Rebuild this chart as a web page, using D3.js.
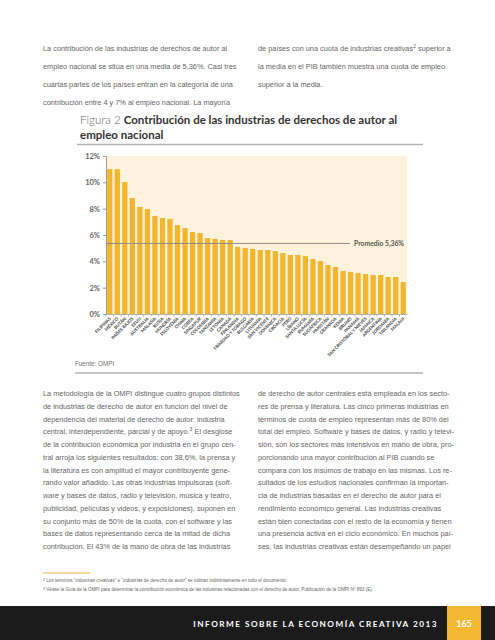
<!DOCTYPE html>
<html><head><meta charset="utf-8">
<script src="https://cdn.jsdelivr.net/npm/d3@7/dist/d3.min.js"></script>
<style>html,body{margin:0;padding:0;background:#fff;}svg{display:block;}</style>
</head><body>
<svg id="page" width="495" height="640"></svg>
<script>
const countries = ["FILIPINAS","MÉXICO","BUTÁN","PAÍSES BAJOS","EEUU","AUSTRALIA","MALASIA","RUSIA","HUNGRÍA","ESLOVENIA","CHINA","COREA","SINGAPUR","COLOMBIA","TANZANIA","LETONIA","CANADÁ","FINLANDIA","TRINIDAD Y TOBAGO","BULGARIA","LITUANIA","SAN VICENTE","DOMINICA","CROACIA","PERÚ","LÍBANO","SANTA LUCÍA","RUMANIA","SUDÁFRICA","PAKISTÁN","GRANADA","KENIA","BRUNEI","PANAMÁ","SAN CRISTÓBAL Y NIEVES","JAMAICA","ARGENTINA","JORDANIA","TAILANDIA","MALAUI"];
const values = [11.0,11.0,10.03,8.81,8.13,7.97,7.44,7.29,7.22,6.76,6.53,6.23,6.15,5.77,5.70,5.62,5.62,5.09,5.01,4.94,4.86,4.86,4.78,4.63,4.48,4.48,4.41,4.18,4.03,3.72,3.57,3.27,3.19,3.11,3.04,2.96,2.96,2.81,2.81,2.43];
const yTicks = [0,2,4,6,8,10,12];
const average = 5.36;
const averageLabel = "Promedio 5,36%";

const topLeft = ["La contribución de las industrias de derechos de autor al","empleo nacional se sitúa en una media de 5,36%. Casi tres","cuartas partes de los países entran en la categoría de una","contribución entre 4 y 7% al empleo nacional. La mayoría"];
const topRight = [["de países con una cuota de industrias creativas","2"," superior a"],["la media en el PIB también muestra una cuota de empleo"],["superior a la media."]];
const bottomLeft = [[["La metodología de la OMPI distingue cuatro grupos distintos"]],[["de industrias de derecho de autor en función del nivel de"]],[["dependencia del material de derecho de autor: industria"]],[["central, interdependiente, parcial y de apoyo."],["3","sup"],[" El desglose","down"]],[["de la contribución económica por industria en el grupo cen-"]],[["tral arroja los siguientes resultados: con 38,6%, la prensa y"]],[["la literatura es con amplitud el mayor contribuyente gene-"]],[["rando valor añadido. Las otras industrias impulsoras ("],["soft-","it"]],[["ware","it"],[" y bases de datos, radio y televisión, música y teatro,"]],[["publicidad, películas y videos, y exposiciones), suponen en"]],[["su conjunto más de 50% de la cuota, con el software y las"]],[["bases de datos representando cerca de la mitad de dicha"]],[["contribución. El 43% de la mano de obra de las industrias"]]];
const bottomRight = ["de derecho de autor centrales está empleada en los secto-","res de prensa y literatura. Las cinco primeras industrias en","términos de cuota de empleo representan más de 80% del","total del empleo. Software y bases de datos, y radio y televi-","sión, son los sectores más intensivos en mano de obra, pro-","porcionando una mayor contribución al PIB cuando se","compara con los insumos de trabajo en las mismas. Los re-","sultados de los estudios nacionales confirman la importan-","cia de industrias basadas en el derecho de autor para el","rendimiento económico general. Las industrias creativas","están bien conectadas con el resto de la economía y tienen","una presencia activa en el ciclo económico. En muchos paí-","ses, las industrias creativas están desempeñando un papel"];
const footnotes = [["2","Los términos “industrias creativas” e “industrias de derecho de autor” se utilizan indistintamente en todo el documento."],["3","Véase la Guía de la OMPI para determinar la contribución económica de las industrias relacionadas con el derecho de autor, Publicación de la OMPI Nº 893 (E)."]];

const svg = d3.select("#page");
const bodyFont = "'Liberation Sans', Arial, sans-serif";
const headFont = "Lato, 'Noto Sans', sans-serif";
const textCol = "#666";

function fit(str, target, family, weight) {
  const t = svg.append("text").attr("font-family", family).attr("font-weight", weight||"normal").attr("font-size", 10).text(str);
  const w = t.node().getComputedTextLength(); t.remove();
  return 10 * target / w;
}
const bodySize = fit(bottomLeft[0][0][0], 197, bodyFont);

// top paragraphs
const topY0 = 51, lead = 18;
topLeft.forEach((s,i)=>svg.append("text").attr("x",43).attr("y",topY0+i*lead).attr("font-family",bodyFont).attr("font-size",bodySize).attr("fill",textCol).text(s));
topRight.forEach((parts,i)=>{
  const t = svg.append("text").attr("x",258).attr("y",topY0+i*lead).attr("font-family",bodyFont).attr("font-size",bodySize).attr("fill",textCol);
  t.append("tspan").text(parts[0]);
  if (parts.length>1){ t.append("tspan").attr("dy",-3).attr("font-size",bodySize*0.7).text(parts[1]); t.append("tspan").attr("dy",3).text(parts[2]); }
});

// title
const titleSize = fit("Figura 2 Contribución de las industrias de derechos de autor al", 318, headFont, "bold");
const t1 = svg.append("text").attr("x",80).attr("y",124).attr("font-family",headFont).attr("font-size",titleSize).attr("fill","#333");
t1.append("tspan").attr("font-weight",300).attr("fill","#666").text("Figura 2 ");
t1.append("tspan").attr("font-weight","bold").text("Contribución de las industrias de derechos de autor al");
svg.append("text").attr("x",80).attr("y",139).attr("font-family",headFont).attr("font-size",titleSize).attr("font-weight","bold").attr("fill","#333").text("empleo nacional");
svg.append("line").attr("x1",77).attr("x2",423).attr("y1",144.5).attr("y2",144.5).attr("stroke","#b3b3b3").attr("stroke-width",1.5);

// chart
const x = d3.scaleBand().domain(countries).range([106,407]).paddingInner(0.3).paddingOuter(0.15);
const y = d3.scaleLinear().domain([0,12]).range([314,156]);
const g = svg.append("g");
g.append("rect").attr("x",106).attr("y",y(12)).attr("width",407-106).attr("height",y(0)-y(12)).attr("fill","#fdf3dd");
g.selectAll("rect.bar").data(values).join("rect").attr("class","bar")
  .attr("x",(d,i)=>x(countries[i])).attr("width",x.bandwidth())
  .attr("y",d=>y(d)).attr("height",d=>y(0)-y(d)).attr("fill","#f1b52e");
const yAxis = g.append("g").attr("transform","translate(106,0)")
  .call(d3.axisLeft(y).tickValues(yTicks).tickFormat(d=>d+"%").tickSize(3).tickPadding(3));
yAxis.select(".domain").attr("stroke","#9a9a9a");
yAxis.selectAll(".tick line").attr("stroke","#9a9a9a");
yAxis.selectAll("text").attr("font-family",headFont).attr("font-size",7.5).attr("font-weight","bold").attr("fill","#666");
const step = x.step();
const xAxis = g.append("g").attr("transform","translate(0,314)")
  .call(d3.axisBottom(x).tickSize(2.5).tickSizeOuter(0).tickFormat(""));
xAxis.select(".domain").attr("stroke","#b0b0b0");
xAxis.selectAll(".tick line").attr("stroke","#b0b0b0").attr("transform",`translate(${-step/2},0)`);
g.selectAll("text.xl").data(countries).join("text").attr("class","xl")
  .attr("transform",d=>`translate(${x(d)+x.bandwidth()/2+1.5},${319}) rotate(-45)`)
  .attr("text-anchor","end").attr("font-family",headFont).attr("font-weight",900).attr("font-size",4.4).attr("fill","#505050").text(d=>d);
g.append("line").attr("x1",106).attr("x2",350).attr("y1",y(average)).attr("y2",y(average)).attr("stroke","#8c8c8c").attr("stroke-width",1);
g.append("text").attr("x",354).attr("y",y(average)+2.5).attr("font-family",headFont).attr("font-weight","bold").attr("font-size",6.8).attr("fill","#555").text(averageLabel);

svg.append("text").attr("x",75).attr("y",366).attr("font-family",bodyFont).attr("font-size",6.3).attr("fill","#777").text("Fuente: OMPI");
svg.append("line").attr("x1",75).attr("x2",423).attr("y1",373).attr("y2",373).attr("stroke","#b3b3b3").attr("stroke-width",1.5);

// bottom paragraphs
const botY0 = 396, lead2 = 12.75;
bottomLeft.forEach((parts,i)=>{
  const t = svg.append("text").attr("x",43).attr("y",botY0+i*lead2).attr("font-family",bodyFont).attr("font-size",bodySize).attr("fill",textCol);
  parts.forEach(p=>{
    const sp = t.append("tspan").text(p[0]);
    if (p[1]==="it") sp.attr("font-style","italic");
    if (p[1]==="sup") sp.attr("dy",-3).attr("font-size",bodySize*0.7);
    if (p[1]==="down") sp.attr("dy",3);
  });
});
bottomRight.forEach((s,i)=>svg.append("text").attr("x",258).attr("y",botY0+i*lead2).attr("font-family",bodyFont).attr("font-size",bodySize).attr("fill",textCol).text(s));

// footnotes
svg.append("line").attr("x1",43).attr("x2",90).attr("y1",573).attr("y2",573).attr("stroke","#f2b632").attr("stroke-width",1);
footnotes.forEach((f,i)=>{
  const t = svg.append("text").attr("x",43).attr("y",582+i*9).attr("font-family",bodyFont).attr("font-size",4.6).attr("fill","#666");
  t.append("tspan").attr("dy",-1.2).attr("font-size",3.6).text(f[0]);
  t.append("tspan").attr("dy",1.2).text(" "+f[1]);
});

// footer
svg.append("rect").attr("x",0).attr("y",606).attr("width",495).attr("height",34).attr("fill","#1b1b1b");
svg.append("rect").attr("x",447).attr("y",606).attr("width",34).attr("height",34).attr("fill","#f4b731");
svg.append("text").attr("x",438).attr("y",627).attr("text-anchor","end").attr("font-family",headFont).attr("font-weight","bold").attr("font-size",8.2).attr("letter-spacing",1.5).attr("fill","#fff").text("INFORME SOBRE LA ECONOMÍA CREATIVA 2013");
svg.append("text").attr("x",464).attr("y",627).attr("text-anchor","middle").attr("font-family",headFont).attr("font-weight","bold").attr("font-size",9).attr("fill","#fff").text("165");
</script>
</body></html>
